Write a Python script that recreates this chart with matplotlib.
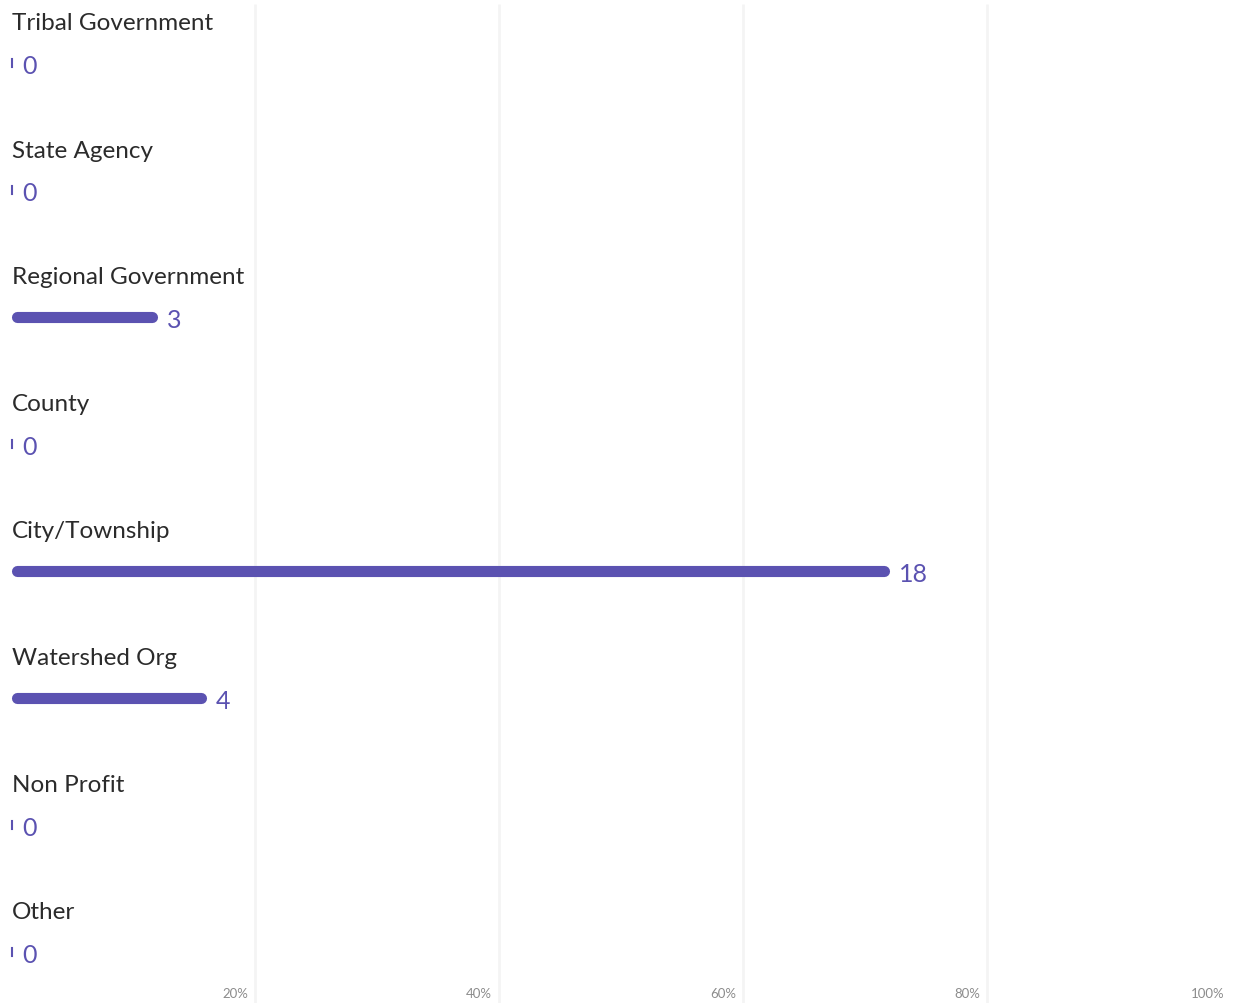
import numpy as np
import matplotlib
matplotlib.use("Agg")
import matplotlib.pyplot as plt

categories = ["Tribal Government", "State Agency", "Regional Government", "County",
              "City/Township", "Watershed Org", "Non Profit", "Other"]
counts = [0, 0, 3, 0, 18, 4, 0, 0]
ticks = [20, 40, 60, 80, 100]
tick_labels = ["20%", "40%", "60%", "80%", "100%"]

pct = np.array(counts) / sum(counts) * 100

W, H = 1235, 1004
px = 12.2  # pixels per percent
bar_color = "#5b52b1"

fig = plt.figure(figsize=(W / 100, H / 100), dpi=100)
ax = fig.add_axes([0, 0, 1, 1])
ax.set_xlim(-11 / px, 100 + 4 / px)
ax.set_ylim(H, 0)
ax.axis("off")

# grid lines (the 100% one sits on the image edge and is not seen)
ax.vlines(ticks[:-1], 5, H, color="#f4f4f4", lw=2, zorder=0)
for t, lab in zip(ticks, tick_labels):
    ax.text(t - 7 / px, 994, lab, ha="right", va="center", fontsize=9.5,
            color="#8c8c8c", family="Lato")

r = 5.5 / px
for i, (cat, p, c) in enumerate(zip(categories, pct, counts)):
    y = 64 + i * 127
    ax.text(1 / px, y - 40, cat, ha="left", va="center", fontsize=17.5,
            color="#2b2b2b", family="Lato")
    if p > 0:
        ax.plot([r, p - r], [y, y], color=bar_color, lw=8, solid_capstyle="round")
        end = p
    else:
        ax.plot([0.1, 0.1], [y - 4, y + 4], color=bar_color, lw=1.5)
        end = 0.1
    ax.text(end + 10 / px, y + 2.5, str(c), ha="left", va="center", fontsize=18,
            color=bar_color, family="Lato")

fig.savefig("out.png", dpi=100)
